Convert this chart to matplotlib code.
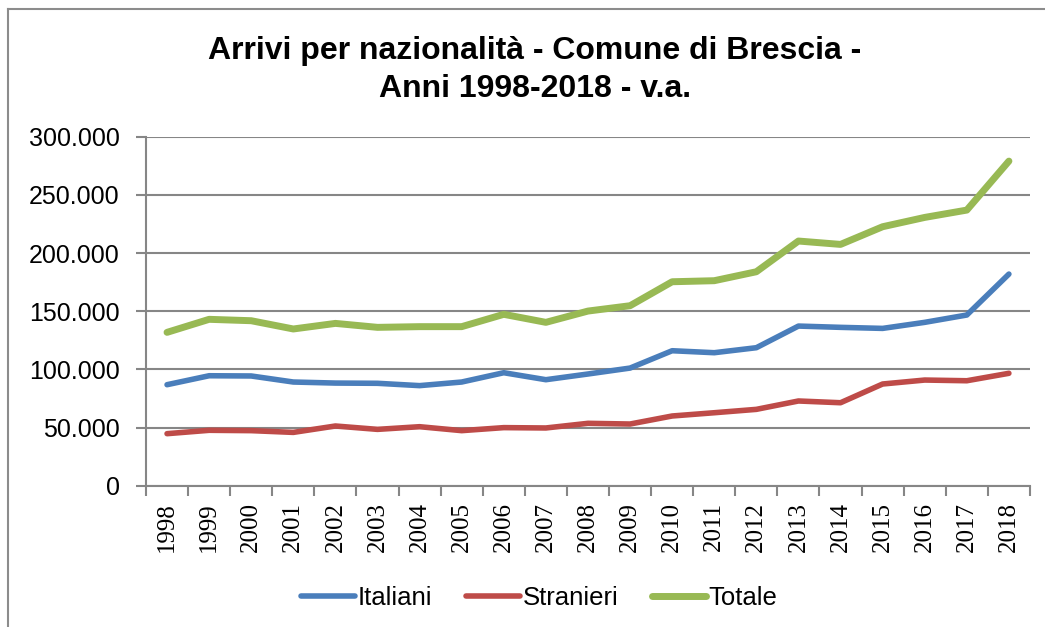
import matplotlib
matplotlib.use("Agg")
import matplotlib.pyplot as plt
from matplotlib.lines import Line2D
from matplotlib.ticker import FuncFormatter, FixedLocator

anni = ["1998", "1999", "2000", "2001", "2002", "2003", "2004", "2005", "2006", "2007",
        "2008", "2009", "2010", "2011", "2012", "2013", "2014", "2015", "2016", "2017", "2018"]
italiani = [86800, 94500, 94300, 89100, 88200, 88000, 86000, 89100, 97100, 91100,
            96000, 101100, 116000, 114300, 118600, 137200, 136100, 135200, 140400, 146700, 181900]
stranieri = [44700, 47600, 47300, 45800, 51300, 48400, 50700, 47300, 49900, 49600,
             53600, 53000, 59900, 62700, 65600, 72800, 71300, 87400, 90800, 90200, 96600]
totale = [131800, 143000, 141800, 134700, 139500, 136100, 136700, 136700, 147300, 140400,
          150100, 154700, 175300, 176200, 183900, 210300, 207400, 222600, 230600, 236900, 279000]

plt.rcParams['font.family'] = ['Liberation Sans', 'DejaVu Sans']
grigio = '#868686'

fig = plt.figure(figsize=(10.45, 6.27), dpi=100)
ax = fig.add_axes([0.1397, 0.2254, 0.8459, 0.5566])

x = list(range(len(anni)))
ax.plot(x, italiani, color='#4A7EBB', lw=4.0, solid_capstyle='round', label='Italiani', zorder=3)
ax.plot(x, stranieri, color='#BE4B48', lw=4.0, solid_capstyle='round', label='Stranieri', zorder=3)
ax.plot(x, totale, color='#98B954', lw=5.0, solid_capstyle='round', label='Totale', zorder=3)

ax.set_xlim(-0.5, len(anni) - 0.5)
ax.set_ylim(0, 300000)
ax.set_yticks(range(0, 300001, 50000))
ax.yaxis.set_major_formatter(FuncFormatter(lambda v, p: f"{int(v):,}".replace(",", ".")))
ax.grid(axis='y', color=grigio, lw=1.5, zorder=1)

ax.xaxis.set_major_locator(FixedLocator([i - 0.5 for i in range(len(anni) + 1)]))
ax.xaxis.set_minor_locator(FixedLocator(x))
ax.set_xticklabels([], minor=False)
ax.set_xticklabels(anni, minor=True, rotation=90, fontfamily='Liberation Serif', fontsize=18)
ax.tick_params(axis='x', which='major', length=7, width=1.5, color=grigio)
ax.tick_params(axis='x', which='minor', length=0, pad=12)
ax.tick_params(axis='y', length=7, width=1.5, color=grigio, labelsize=18, pad=12)

for s in ['top', 'right']:
    ax.spines[s].set_visible(False)
for s in ['left', 'bottom']:
    ax.spines[s].set_color(grigio)
    ax.spines[s].set_linewidth(1.5)

fig.suptitle("Arrivi per nazionalità - Comune di Brescia -\nAnni 1998-2018 - v.a.",
             x=0.512, y=0.943, fontsize=23, fontweight='bold', linespacing=1.38)

leg = ax.legend(loc='center', ncol=3, frameon=False, fontsize=18.5, handlelength=2.1,
                handletextpad=0.1, columnspacing=1.3)
leg.set_bbox_to_anchor((0.516, 0.046), transform=fig.transFigure)

# cornice del grafico
fig.add_artist(Line2D([0.0077, 0.0077], [0.0, 0.986], color='#8c8c8c', lw=1.5))
fig.add_artist(Line2D([0.0077, 1.0], [0.986, 0.986], color='#8c8c8c', lw=1.5))

fig.savefig("out.png", dpi=100)
